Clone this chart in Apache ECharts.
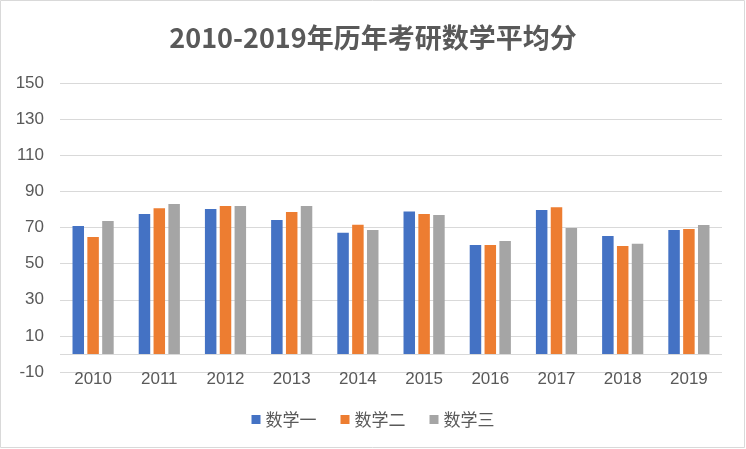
<!DOCTYPE html>
<html>
<head>
<meta charset="utf-8">
<script src="https://cdn.jsdelivr.net/npm/echarts@6/dist/echarts.min.js"></script>
<style>
html,body{margin:0;padding:0;background:#fff;}
#c{width:746px;height:449px;}
</style>
</head>
<body>
<div id="c"></div>
<script>
var titleText = '2010-2019年历年考研数学平均分';
var categories = ['2010','2011','2012','2013','2014','2015','2016','2017','2018','2019'];
var seriesNames = ['数学一','数学二','数学三'];
var math1 = [70.8, 77.5, 80.2, 74.1, 67.1, 78.9, 60.3, 79.7, 65.3, 68.6];
var math2 = [64.7, 80.6, 81.9, 78.6, 71.5, 77.5, 60.3, 81.2, 59.7, 69.2];
var math3 = [73.6, 83.0, 81.9, 81.9, 68.6, 76.9, 62.5, 69.7, 61.0, 71.4];
var yTicks = [-10, 10, 30, 50, 70, 90, 110, 130, 150];
var colors = ['#4472C4', '#ED7D31', '#A5A5A5'];

var yMin = yTicks[0], yMax = yTicks[yTicks.length - 1];
var yStep = yTicks[1] - yTicks[0];
var txt = '#595959';
var font = '"Liberation Sans", "Noto Sans CJK SC", sans-serif';

var chart = echarts.init(document.getElementById('c'));
var dataSets = [math1, math2, math3];
var series = dataSets.map(function (d, i) {
  var s = {
    name: seriesNames[i],
    type: 'bar',
    yAxisIndex: 1,
    data: d,
    barWidth: 11.5,
    barGap: '29%',
    itemStyle: { color: colors[i] },
    emphasis: { disabled: true }
  };
  if (i === 0) {
    s.markLine = {
      silent: true,
      symbol: 'none',
      label: { show: false },
      lineStyle: { color: '#d9d9d9', width: 1, type: 'solid' },
      data: [{ yAxis: 0 }]
    };
  }
  return s;
});

chart.setOption({
  animation: false,
  color: colors,
  title: {
    text: titleText,
    left: 'center',
    top: 19,
    textStyle: { fontSize: 27, fontWeight: 'bold', color: txt, fontFamily: '"Noto Sans CJK SC", sans-serif' }
  },
  legend: {
    data: seriesNames,
    left: 'center',
    top: 406,
    icon: 'rect',
    itemWidth: 9,
    itemHeight: 9,
    itemGap: 24,
    textStyle: { fontSize: 17, color: txt, fontFamily: '"Noto Sans CJK SC", sans-serif' }
  },
  grid: { left: 60, right: 24, top: 83, bottom: 77, containLabel: false },
  xAxis: {
    type: 'category',
    data: categories,
    axisLine: { show: false },
    axisTick: { show: false },
    axisLabel: { color: txt, fontSize: 17, fontFamily: font, margin: -1 }
  },
  yAxis: [
    {
      type: 'value',
      min: 0,
      max: yMax - yMin,
      interval: yStep,
      axisLine: { show: false },
      axisTick: { show: false },
      axisLabel: {
        color: txt, fontSize: 17, fontFamily: font, margin: 16,
        formatter: function (v) { return String(v + yMin); }
      },
      splitLine: { lineStyle: { color: '#d9d9d9', width: 1 } }
    },
    {
      type: 'value',
      min: yMin,
      max: yMax,
      show: false,
      splitLine: { show: false }
    }
  ],
  graphic: [{
    type: 'rect',
    shape: { x: 0.5, y: 0.5, width: 744, height: 447 },
    style: { fill: 'none', stroke: '#d9d9d9', lineWidth: 1 },
    silent: true
  }],
  series: series
});
</script>
</body>
</html>
